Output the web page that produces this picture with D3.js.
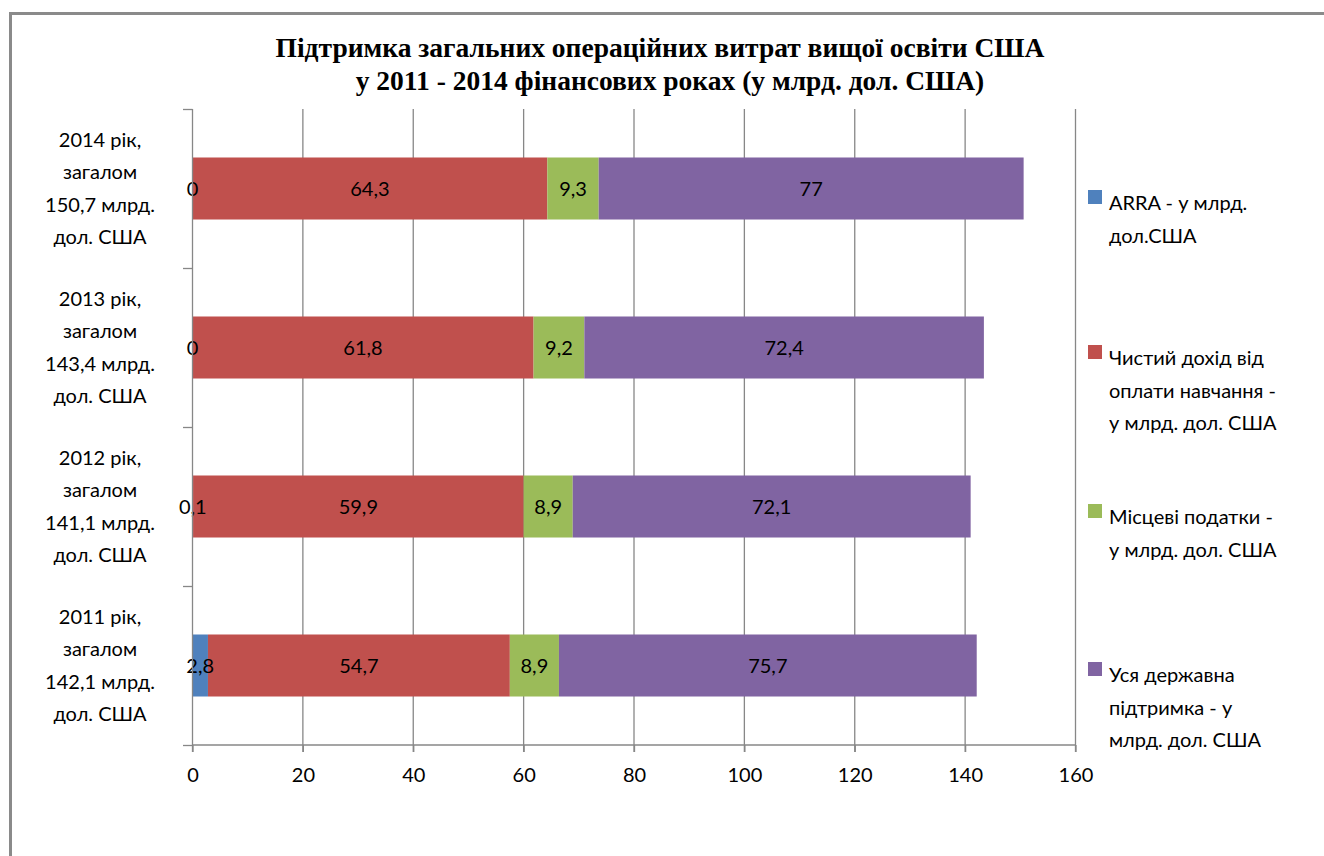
<!DOCTYPE html>
<html>
<head>
<meta charset="utf-8">
<script src="https://cdn.jsdelivr.net/npm/d3@7"></script>
<style>
  body { margin: 0; background: #fff; }
  svg { display: block; }
</style>
</head>
<body>
<svg id="chart" width="1324" height="856"></svg>
<script>
// ===== Data =====
const years = ["2014", "2013", "2012", "2011"];
const yearLabels = [
  ["2014 рік,", "загалом", "150,7 млрд.", "дол. США"],
  ["2013 рік,", "загалом", "143,4 млрд.", "дол. США"],
  ["2012 рік,", "загалом", "141,1 млрд.", "дол. США"],
  ["2011 рік,", "загалом", "142,1 млрд.", "дол. США"]
];
const arra = [0, 0, 0.1, 2.8];
const tuition = [64.3, 61.8, 59.9, 54.7];
const localTax = [9.3, 9.2, 8.9, 8.9];
const stateSupport = [77, 72.4, 72.1, 75.7];
const seriesNames = [
  ["ARRA - у млрд.", "дол.США"],
  ["Чистий дохід від", "оплати навчання -", "у млрд. дол. США"],
  ["Місцеві податки -", "у млрд. дол. США"],
  ["Уся державна", "підтримка - у", "млрд. дол. США"]
];
const xTicks = [0, 20, 40, 60, 80, 100, 120, 140, 160];
const colors = ["#4F81BD", "#C0504D", "#9BBB59", "#8064A2"];

const seriesKeys = ["arra", "tuition", "localTax", "stateSupport"];
const rows = years.map((yr, i) => ({
  year: yr, arra: arra[i], tuition: tuition[i], localTax: localTax[i], stateSupport: stateSupport[i]
}));

// ===== Layout =====
const svg = d3.select("#chart");
const font = "Lato, 'Open Sans', sans-serif";

// outer frame (runs off the right/bottom edges)
svg.append("rect")
  .attr("x", 10.5).attr("y", 13.5)
  .attr("width", 1340).attr("height", 900)
  .attr("fill", "#fff")
  .attr("stroke", "#8a8a8a").attr("stroke-width", 3);

// title
const title = svg.append("text")
  .attr("text-anchor", "middle")
  .attr("font-family", "'Liberation Serif', 'Times New Roman', serif")
  .attr("font-weight", "bold")
  .attr("font-size", 27.5);
title.append("tspan").attr("x", 660).attr("y", 57).text("Підтримка загальних операційних витрат вищої освіти США");
title.append("tspan").attr("x", 670).attr("y", 90).text("у 2011 - 2014 фінансових роках (у млрд. дол. США)");

const x = d3.scaleLinear().domain([0, 160]).range([192.5, 1075.5]);
const y = d3.scaleBand().domain(years).range([109, 745]).paddingInner(0.61).paddingOuter(0.305);

// gridlines
svg.append("g").selectAll("line")
  .data(xTicks.slice(1))
  .join("line")
  .attr("x1", d => x(d)).attr("x2", d => x(d))
  .attr("y1", 109).attr("y2", 752)
  .attr("stroke", "#878787").attr("stroke-width", 1.3);

// stacked bars
const stack = d3.stack().keys(seriesKeys)(rows);
const g = svg.append("g");
stack.forEach((layer, si) => {
  g.selectAll(null)
    .data(layer)
    .join("rect")
    .attr("x", d => x(d[0]))
    .attr("y", d => y(d.data.year))
    .attr("width", d => x(d[1]) - x(d[0]))
    .attr("height", y.bandwidth())
    .attr("fill", colors[si]);
});

// data labels
stack.forEach((layer, si) => {
  g.selectAll(null)
    .data(layer)
    .join("text")
    .attr("x", d => (x(d[0]) + x(d[1])) / 2)
    .attr("y", d => y(d.data.year) + y.bandwidth() / 2 + 7)
    .attr("text-anchor", "middle")
    .attr("font-family", font)
    .attr("font-size", 20)
    .attr("fill", "#000")
    .text(d => String(d.data[seriesKeys[si]]).replace(".", ","));
});

// y axis line + category ticks
const yAxisG = svg.append("g");
yAxisG.append("line")
  .attr("x1", x(0)).attr("x2", x(0)).attr("y1", 109).attr("y2", 752)
  .attr("stroke", "#878787").attr("stroke-width", 1.3);
const bounds = years.map(yr => y(yr) - y.step() * y.paddingInner() / 2 - (y.step() * (1 - y.paddingInner()) - y.bandwidth()) / 2);
bounds.push(745);
yAxisG.selectAll(".ctick")
  .data(bounds)
  .join("line")
  .attr("x1", 183).attr("x2", x(0))
  .attr("y1", d => Math.round(d) + 0.5).attr("y2", d => Math.round(d) + 0.5)
  .attr("stroke", "#878787").attr("stroke-width", 1.3);

// category labels
years.forEach((yr, i) => {
  const cy = y(yr) + y.bandwidth() / 2;
  const lines = yearLabels[i];
  const t = svg.append("text")
    .attr("text-anchor", "middle")
    .attr("font-family", font)
    .attr("font-size", 20)
    .attr("fill", "#000");
  lines.forEach((ln, j) => {
    t.append("tspan")
      .attr("x", 100)
      .attr("y", cy + (j - (lines.length - 1) / 2) * 32.5 + 7)
      .text(ln);
  });
});

// x axis
const xAxisG = svg.append("g").attr("transform", "translate(0,745)");
xAxisG.call(d3.axisBottom(x).tickValues(xTicks).tickSize(7).tickPadding(16).tickFormat(d3.format("d")));
xAxisG.select(".domain").attr("stroke", "#878787").attr("stroke-width", 1.3).attr("d", `M${x(0)},0H${x(160)}`);
xAxisG.selectAll(".tick line").attr("stroke", "#878787").attr("stroke-width", 1.3);
xAxisG.selectAll(".tick text").attr("font-family", font).attr("font-size", 20).attr("fill", "#000");

// legend
const legendTop = [203, 358, 517, 675];
const legend = svg.append("g");
seriesNames.forEach((lines, i) => {
  legend.append("rect")
    .attr("x", 1088).attr("y", legendTop[i] - 13)
    .attr("width", 14).attr("height", 14)
    .attr("fill", colors[i]);
  const t = legend.append("text")
    .attr("font-family", font)
    .attr("font-size", 20)
    .attr("fill", "#000");
  lines.forEach((ln, j) => {
    t.append("tspan").attr("x", 1109).attr("y", legendTop[i] + 7 + j * 32.5).text(ln);
  });
});
</script>
</body>
</html>
